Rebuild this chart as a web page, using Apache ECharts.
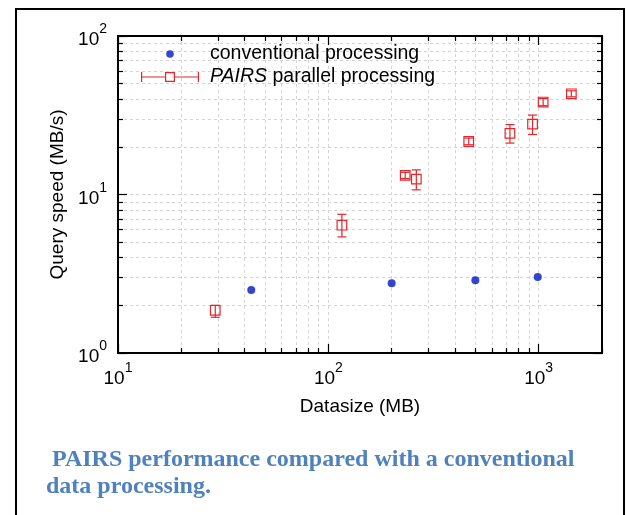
<!DOCTYPE html>
<html>
<head>
<meta charset="utf-8">
<script src="https://cdn.jsdelivr.net/npm/echarts@6/dist/echarts.min.js"></script>
<style>
  html, body { margin: 0; padding: 0; background: #fff; }
  #chart { width: 626px; height: 515px; }
</style>
</head>
<body>
<div id="chart"></div>
<script>
// conventional processing
const convSize = [43, 200, 500, 990]
const convSpeed = [2.5, 2.75, 2.88, 3.02]

// PAIRS parallel processing (with error bars)
const pairsSize = [29, 116, 232, 262, 465, 730, 935, 1050, 1430]
const pairsSpeed = [1.86, 6.4, 13.2, 12.5, 21.6, 24.3, 27.8, 38.3, 43.2]
const pairsLow = [1.68, 5.4, 12.6, 10.7, 20.6, 21.1, 23.9, 36.3, 41.3]
const pairsHigh = [2.0, 7.5, 13.8, 14.3, 22.7, 27.6, 31.7, 40.3, 45.1]

const xMajor = [10, 100, 1000]
const xMinor = [20, 30, 40, 50, 60, 70, 80, 90, 200, 300, 400, 500, 600, 700, 800, 900, 2000]
const yMajor = [1, 10, 100]
const yMinor = [2, 3, 4, 5, 6, 7, 8, 9, 20, 30, 40, 50, 60, 70, 80, 90]

const RED = '#e3262b'
const BLUE = '#0018c4'
const FONT = 'Liberation Sans'

const chart = echarts.init(document.getElementById('chart'))

const gridRect = { left: 118, right: 24, top: 36, bottom: 162 }

const powRich = {
  b: { fontSize: 19, fontFamily: FONT, color: '#000', lineHeight: 27, verticalAlign: 'bottom' },
  s: { fontSize: 14, fontFamily: FONT, color: '#000', lineHeight: 27, verticalAlign: 'top' }
}
const powLabel = (v) => '{b|10}{s|' + Math.round(Math.log10(v)) + '}'

function makeAxis(dim, gridIndex, position, ticks, len, labels) {
  const isX = dim === 'x'
  return {
    type: 'log',
    gridIndex,
    position,
    min: isX ? 10 : 1,
    max: isX ? 2000 : 100,
    logBase: 10,
    axisLine: { show: true, lineStyle: { color: '#000', width: 2 } },
    axisTick: { show: true, inside: true, length: len, customValues: ticks, lineStyle: { color: '#000', width: 1.2 } },
    axisLabel: labels
      ? { show: true, customValues: labels, formatter: powLabel, rich: powRich, margin: isX ? 8 : 11 }
      : { show: false },
    splitLine: { show: false },
    minorTick: { show: false }
  }
}

const gridLineStyle = { color: '#d4d4d4', width: 1, type: [3, 3] }

const xAxes = [
  Object.assign(makeAxis('x', 0, 'bottom', xMajor, 9, xMajor), {
    name: 'Datasize (MB)',
    nameLocation: 'middle',
    nameGap: 44,
    nameTextStyle: { fontSize: 19, fontFamily: FONT, color: '#000' }
  }),
  makeAxis('x', 0, 'top', xMajor, 9, null),
  Object.assign(makeAxis('x', 1, 'bottom', xMinor, 5, null), {
    splitLine: { show: true, lineStyle: gridLineStyle }
  }),
  makeAxis('x', 1, 'top', xMinor, 5, null),
  Object.assign(makeAxis('x', 2, 'bottom', xMajor, 0, null), {
    axisTick: { show: false, customValues: xMajor },
    splitLine: { show: true, lineStyle: gridLineStyle }
  })
]

const yAxes = [
  Object.assign(makeAxis('y', 0, 'left', yMajor, 9, yMajor), {
    name: 'Query speed (MB/s)',
    nameLocation: 'middle',
    nameGap: 48,
    nameTextStyle: { fontSize: 19, fontFamily: FONT, color: '#000' }
  }),
  makeAxis('y', 0, 'right', yMajor, 9, null),
  Object.assign(makeAxis('y', 1, 'left', yMinor, 5, null), {
    splitLine: { show: true, lineStyle: gridLineStyle }
  }),
  makeAxis('y', 1, 'right', yMinor, 5, null),
  Object.assign(makeAxis('y', 2, 'left', yMajor, 0, null), {
    axisTick: { show: false, customValues: yMajor },
    splitLine: { show: true, lineStyle: gridLineStyle }
  })
]

// legend icons (drawn in a 58x10 box)
const errIcon = 'path://M0,4.4H24V5.6H0Z M34,4.4H58V5.6H34Z M0,0H1.2V10H0Z M56.8,0H58V10H56.8Z ' +
  'M24,0H34V10H24Z M25.2,1.2V8.8H32.8V1.2Z'
const dotIcon = 'path://M0,0L0,0Z M10,10L10,10Z M5,1.2A3.8,3.8 0 1 1 4.99,1.2Z'

const option = {
  animation: false,
  backgroundColor: '#fff',
  title: {
    text: ' PAIRS performance compared with a conventional\ndata processing.',
    left: 41,
    top: 441,
    textStyle: {
      fontFamily: 'Liberation Serif',
      fontWeight: 'bold',
      fontSize: 24,
      lineHeight: 27,
      color: '#4f81bd'
    }
  },
  graphic: [
    {
      type: 'rect',
      shape: { x: 16, y: 9, width: 608, height: 540 },
      style: { fill: 'none', stroke: '#000', lineWidth: 2 },
      silent: true,
      z: -10
    }
  ],
  legend: {
    orient: 'vertical',
    left: 141,
    top: 44,
    itemWidth: 58,
    itemHeight: 10,
    itemGap: 3,
    padding: 0,
    textStyle: {
      fontSize: 19.5,
      fontFamily: FONT,
      color: '#000',
      padding: [0, 0, 0, 6],
      rich: { i: { fontSize: 19.5, fontFamily: FONT, fontStyle: 'italic', color: '#000' } }
    },
    formatter: (name) => name === 'PAIRS parallel processing' ? '{i|PAIRS} parallel processing' : name,
    data: [
      { name: 'conventional processing', icon: dotIcon, itemStyle: { color: BLUE, borderWidth: 0 } },
      { name: 'PAIRS parallel processing', icon: errIcon, itemStyle: { color: RED, borderWidth: 0 } }
    ]
  },
  grid: [
    Object.assign({}, gridRect),
    Object.assign({}, gridRect),
    Object.assign({}, gridRect)
  ],
  xAxis: xAxes,
  yAxis: yAxes,
  series: [
    {
      name: 'conventional processing',
      type: 'scatter',
      xAxisIndex: 0,
      yAxisIndex: 0,
      symbol: 'circle',
      symbolSize: 8,
      itemStyle: { color: BLUE },
      data: convSize.map((x, i) => [x, convSpeed[i]]),
      z: 5
    },
    {
      name: 'PAIRS parallel processing',
      type: 'custom',
      xAxisIndex: 0,
      yAxisIndex: 0,
      itemStyle: { color: RED },
      renderItem: (params, api) => {
        const x = api.value(0)
        const top = api.coord([x, api.value(2)])
        const bot = api.coord([x, api.value(1)])
        const mid = api.coord([x, api.value(3)])
        const cap = 4.5
        const half = 4.8
        const st = { stroke: RED, lineWidth: 1.2, fill: null }
        return {
          type: 'group',
          children: [
            { type: 'line', shape: { x1: top[0], y1: top[1], x2: bot[0], y2: bot[1] }, style: st },
            { type: 'line', shape: { x1: top[0] - cap, y1: top[1], x2: top[0] + cap, y2: top[1] }, style: st },
            { type: 'line', shape: { x1: bot[0] - cap, y1: bot[1], x2: bot[0] + cap, y2: bot[1] }, style: st },
            { type: 'rect', shape: { x: mid[0] - half, y: mid[1] - half, width: half * 2, height: half * 2 }, style: st }
          ]
        }
      },
      encode: { x: 0, y: 3 },
      data: pairsSize.map((x, i) => [x, pairsLow[i], pairsHigh[i], pairsSpeed[i]]),
      z: 4
    }
  ]
}

chart.setOption(option)
</script>
</body>
</html>
